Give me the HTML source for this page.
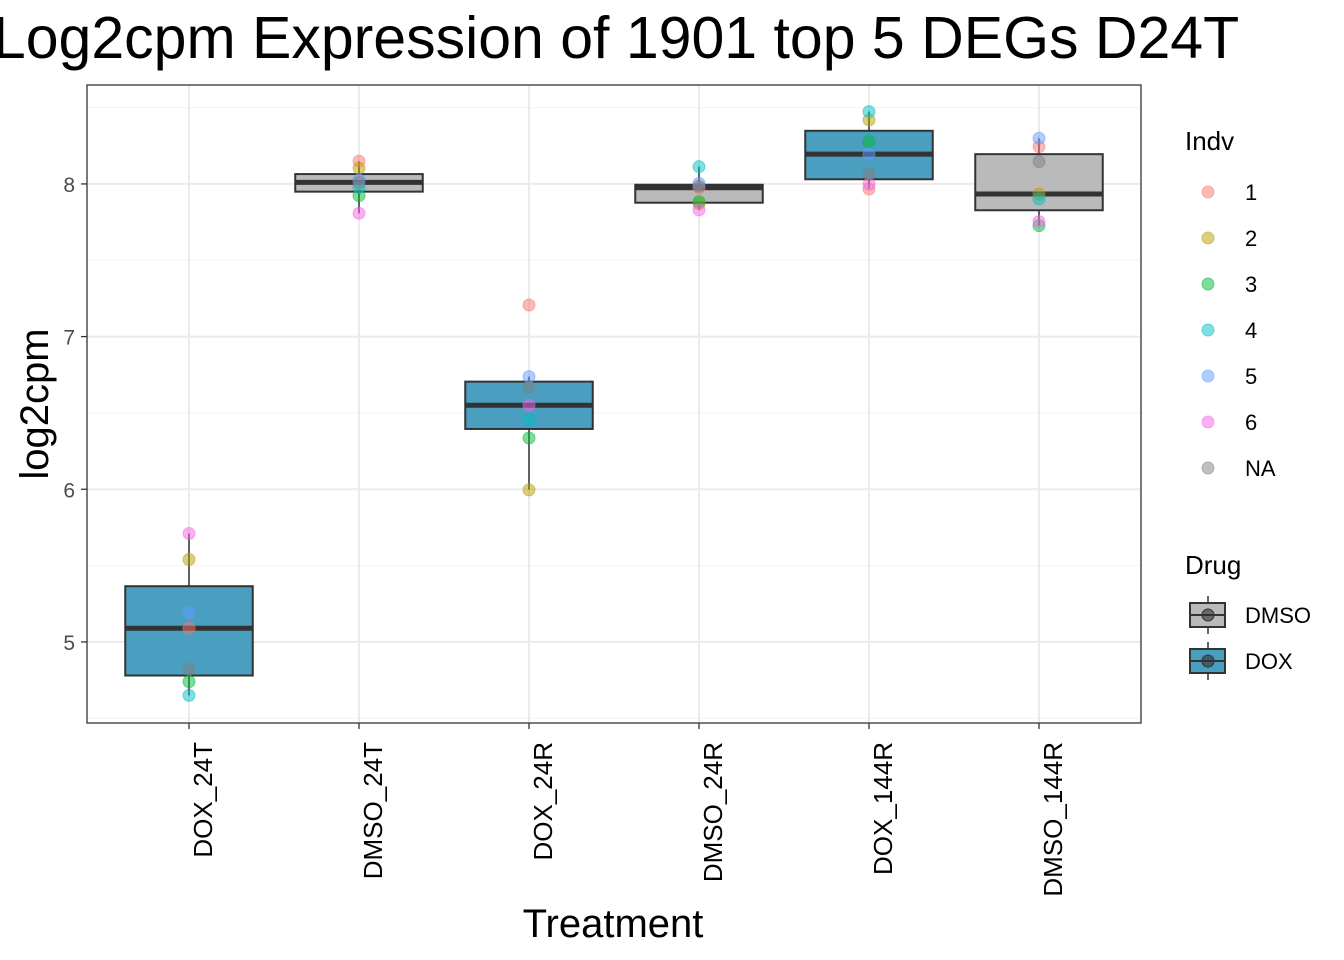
<!DOCTYPE html>
<html><head><meta charset="utf-8"><style>
html,body{margin:0;padding:0;background:#fff;width:1344px;height:960px;overflow:hidden}
svg{font-family:"Liberation Sans",Arial,sans-serif}
</style></head><body>
<svg id="chart" width="1344" height="960" viewBox="0 0 1344 960">
<text x="616" y="58" font-size="59" text-anchor="middle" fill="#000">Log2cpm Expression of 1901 top 5 DEGs D24T</text>
<g id="grid"></g>
<g id="marks"></g>
<rect x="87" y="85" width="1054" height="638" fill="none" stroke="#333" stroke-width="1.3"/>
<g id="axes"></g>
<text x="613" y="937" font-size="40" text-anchor="middle">Treatment</text>
<text transform="translate(48,404) rotate(-90)" font-size="40" text-anchor="middle">log2cpm</text>
<g id="legend"></g>
</svg>
<script>
const categories = ["DOX_24T","DMSO_24T","DOX_24R","DMSO_24R","DOX_144R","DMSO_144R"];
const drugs = ["DOX","DMSO","DOX","DMSO","DOX","DMSO"];
const indvLabels = ["1","2","3","4","5","6","NA"];
// values per category, ordered by individual 1..6, NA
const values = [
 [5.09,5.54,4.74,4.65,5.19,5.71,4.82],
 [8.149,8.103,7.923,7.976,8.026,7.808,8.01],
 [7.207,5.996,6.336,6.454,6.738,6.55,6.672],
 [7.975,7.87,7.884,8.113,8.004,7.83,7.985],
 [7.967,8.419,8.277,8.474,8.195,7.998,8.063],
 [8.244,7.934,7.727,7.902,8.299,7.753,8.146]
];
const yTicks = [5,6,7,8];
const yMinor = [4.5,5.5,6.5,7.5,8.5];

const NS="http://www.w3.org/2000/svg";
const L=87,R=1141,T=85,B=723, yMin=4.469,yMax=8.648;
const ys=v=>B-(v-yMin)/(yMax-yMin)*(B-T);
const step=(R-L)/(categories.length+0.2);
const xs=i=>L+step*(i+0.6);
const indvColors=["#F8766D","#B79F00","#00BA38","#00BFC4","#619CFF","#F564E3","#7F7F7F"];
const drugFill={DOX:"#4A9EBF",DMSO:"#BABABA"};
function mk(tag,attrs,parent){const e=document.createElementNS(NS,tag);for(const k in attrs)e.setAttribute(k,attrs[k]);parent.appendChild(e);return e;}
const grid=document.getElementById("grid"),marks=document.getElementById("marks"),axes=document.getElementById("axes"),legend=document.getElementById("legend");
yMinor.forEach(v=>{const l=mk("line",{x1:L,x2:R,y1:ys(v),y2:ys(v),stroke:"#F2F2F2","stroke-width":1},grid);

});
yTicks.forEach(v=>{const l=mk("line",{x1:L,x2:R,y1:ys(v),y2:ys(v),stroke:"#EBEBEB","stroke-width":2},grid);


const t=mk("line",{x1:L-6,x2:L,y1:ys(v),y2:ys(v),stroke:"#333","stroke-width":1.3},axes);


const tx=mk("text",{x:L-12,y:ys(v)+8,"font-size":21,"text-anchor":"end",fill:"#4D4D4D"},axes);tx.textContent=v;

});
categories.forEach((c,i)=>{const x=xs(i);
const g=mk("line",{x1:x,x2:x,y1:T,y2:B,stroke:"#EBEBEB","stroke-width":2},grid);


const t=mk("line",{x1:x,x2:x,y1:B,y2:B+6,stroke:"#333","stroke-width":1.3},axes);


const tx=mk("text",{transform:`translate(${x+23},${B+19}) rotate(-90)`,"font-size":26,"text-anchor":"end",fill:"#000"},axes);tx.textContent=c;


const s=[...values[i]].sort((a,b)=>a-b),n=s.length;
const q=p=>{const h=(n-1)*p,lo=Math.floor(h);return s[lo]+(h-lo)*((s[lo+1]??s[lo])-s[lo]);};
const q1=q(.25),md=q(.5),q3=q(.75),iqr=q3-q1;
const wHi=Math.max(...s.filter(v=>v<=q3+1.5*iqr)),wLo=Math.min(...s.filter(v=>v>=q1-1.5*iqr));
const grp=mk("g",{},marks);


mk("line",{x1:x,x2:x,y1:ys(wHi),y2:ys(q3),stroke:"#333","stroke-width":1.5},grp);
mk("line",{x1:x,x2:x,y1:ys(q1),y2:ys(wLo),stroke:"#333","stroke-width":1.5},grp);
const bw=step*0.75;
mk("rect",{x:x-bw/2,y:ys(q3),width:bw,height:ys(q1)-ys(q3),fill:drugFill[drugs[i]],stroke:"#333","stroke-width":2},grp);
mk("line",{x1:x-bw/2,x2:x+bw/2,y1:ys(md),y2:ys(md),stroke:"#333","stroke-width":5},grp);
values[i].forEach((v,j)=>{const p=mk("circle",{cx:x,cy:ys(v),r:6,fill:indvColors[j],"fill-opacity":0.5,stroke:indvColors[j],"stroke-opacity":0.5},marks);

});
});
// legend
const lt=mk("text",{x:1185,y:150,"font-size":26},legend);lt.textContent="Indv";


indvLabels.forEach((lab,j)=>{const y=192+46*j;
const c=mk("circle",{cx:1208,cy:y,r:6,fill:indvColors[j],"fill-opacity":0.5,stroke:indvColors[j],"stroke-opacity":0.5},legend);


const t=mk("text",{x:1245,y:y+8,"font-size":22},legend);t.textContent=lab;

});
const dt=mk("text",{x:1185,y:574,"font-size":26},legend);dt.textContent="Drug";


["DMSO","DOX"].forEach((d,j)=>{const y=615+46*j;
const g=mk("g",{},legend);


mk("line",{x1:1208,x2:1208,y1:y-19,y2:y+19,stroke:"#333","stroke-width":1.5},g);
mk("rect",{x:1190,y:y-12,width:35,height:24,fill:drugFill[d],stroke:"#333","stroke-width":2},g);
mk("line",{x1:1190,x2:1225,y1:y,y2:y,stroke:"#333","stroke-width":2},g);
mk("circle",{cx:1208,cy:y,r:6,fill:"#333","fill-opacity":0.6,stroke:"#333"},g);
const t=mk("text",{x:1245,y:y+8,"font-size":22},legend);t.textContent=d;

});
</script>
</body></html>
